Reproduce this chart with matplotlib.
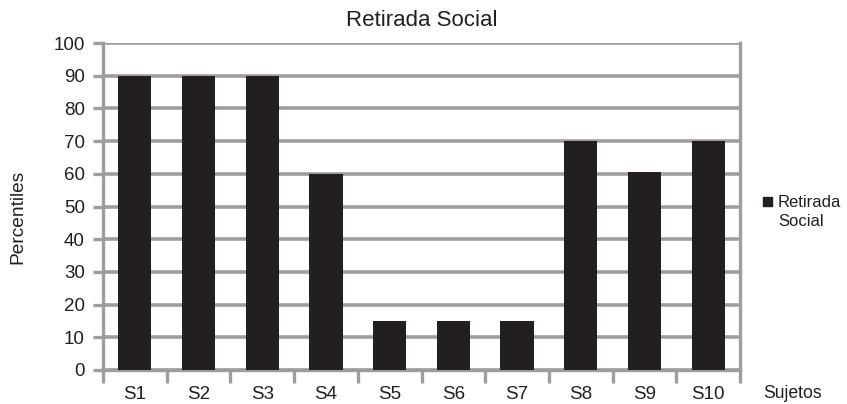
import matplotlib.pyplot as plt
from matplotlib.patches import Rectangle

plt.rcParams['font.family'] = ['Liberation Sans', 'DejaVu Sans']

# datos
sujetos = ["S1", "S2", "S3", "S4", "S5", "S6", "S7", "S8", "S9", "S10"]
percentiles = [90, 90, 90, 60, 15, 15, 15, 70, 60.5, 70]
serie = "Retirada Social"
etiqueta_serie = "Retirada\nSocial"

GRIS = "#9d9d9d"
NEGRO = "#231f20"
W, H = 847, 404

fig = plt.figure(figsize=(W / 100, H / 100), dpi=100)
ax = fig.add_axes([103 / W, 34 / H, 637 / W, 327 / H])

x = list(range(len(sujetos)))
ax.bar(x, percentiles, width=0.52, color=NEGRO, zorder=3)

ax.set_xlim(-0.5, len(sujetos) - 0.5)
ax.set_ylim(0, 100)
ax.set_yticks(range(0, 101, 10))
ax.yaxis.grid(True, color=GRIS, linewidth=2.6, zorder=0)

# ticks entre categorias, etiquetas centradas en cada barra
ax.set_xticks([i + 0.5 for i in range(-1, len(sujetos))], minor=False)
ax.set_xticklabels([])
ax.set_xticks(x, minor=True)
ax.set_xticklabels(sujetos, minor=True, fontsize=13.5, color=NEGRO)
ax.tick_params(axis="x", which="major", length=9, width=2.4, color=GRIS, direction="out")
ax.tick_params(axis="x", which="minor", length=0, pad=11.5)
ax.tick_params(axis="y", length=7, width=2.4, color=GRIS, labelsize=13.5, pad=6,
               labelcolor=NEGRO)

for lado in ["left", "bottom", "right"]:
    ax.spines[lado].set_color(GRIS)
    ax.spines[lado].set_linewidth(2.4)
ax.spines["top"].set_visible(False)

ax.set_title(serie, fontsize=16, color=NEGRO, pad=12)
fig.text(18 / W, 1 - 217 / H, "Percentiles", rotation=90, va="center", ha="center",
         fontsize=13.8, color=NEGRO)
fig.text(763 / W, 1 - 393 / H, "Sujetos", va="center", ha="left",
         fontsize=12.7, color=NEGRO)

# leyenda: cuadro + texto
fig.add_artist(Rectangle((763 / W, 1 - 206 / H), 9 / W, 9 / H,
                         transform=fig.transFigure, color=NEGRO))
fig.text(778 / W, 1 - 195 / H, etiqueta_serie, va="top", ha="left",
         fontsize=12, color=NEGRO, linespacing=1.3)

fig.savefig("out.png", dpi=100)
